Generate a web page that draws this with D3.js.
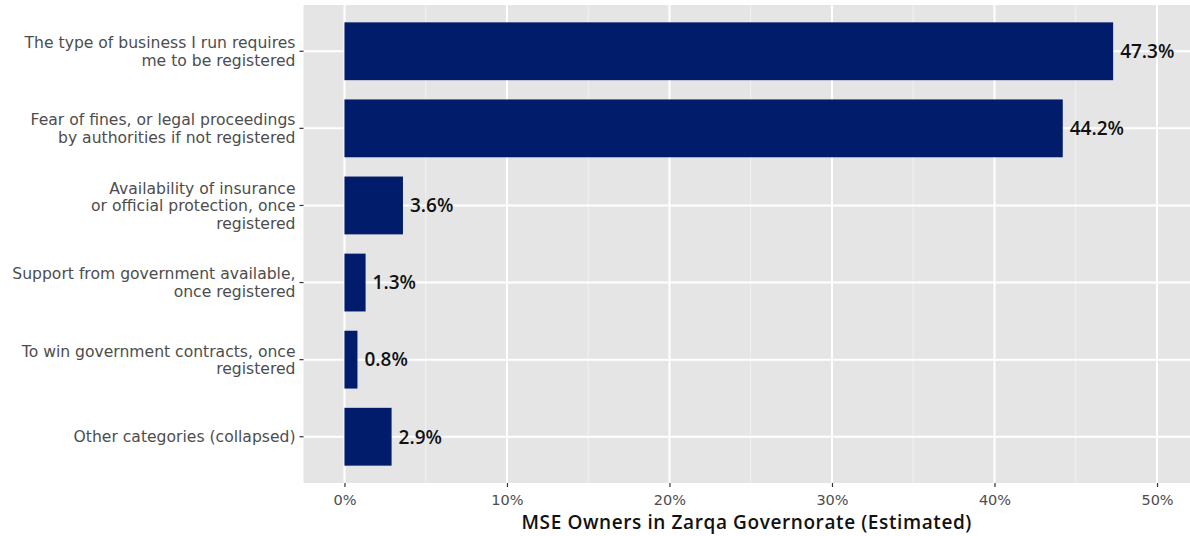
<!DOCTYPE html>
<html>
<head>
<meta charset="utf-8">
<script src="https://cdn.jsdelivr.net/npm/d3@7"></script>
<style>
  body { margin: 0; background: white; }
  svg { display: block; }
  .ylab { font-family: "DejaVu Sans", sans-serif; font-size: 15.6px; fill: #4d4d4d; }
  .xtick { font-family: "DejaVu Sans", sans-serif; font-size: 14.5px; fill: #4d4d4d; }
  .val { font-family: "Open Sans", sans-serif; font-size: 19px; font-weight: 600; fill: #111; }
  .xtitle { font-family: "Open Sans", sans-serif; font-size: 19px; font-weight: 600; fill: #111; letter-spacing: 0.6px; }
</style>
</head>
<body>
<div id="chart"></div>
<script>
// categories, top to bottom (each entry = lines of the wrapped label)
var categories = [
  ["The type of business I run requires", "me to be registered"],
  ["Fear of fines, or legal proceedings", "by authorities if not registered"],
  ["Availability of insurance", "or official protection, once", "registered"],
  ["Support from government available,", "once registered"],
  ["To win government contracts, once", "registered"],
  ["Other categories (collapsed)"]
]
var values = [47.3, 44.2, 3.6, 1.3, 0.8, 2.9]
var xTicks = [0, 10, 20, 30, 40, 50]
var xTitle = "MSE Owners in Zarqa Governorate (Estimated)"

const width = 1190
const height = 536
const panel = {left: 303.5, right: 1190, top: 5, bottom: 483}

var svg = d3.select('#chart').append('svg')
  .attr('width', width)
  .attr('height', height)

var x = d3.scaleLinear()
  .domain([-2.52, 52.03])
  .range([panel.left, panel.right])

// discrete positions like ggplot: 1..n with 0.6 expansion
var idx = categories.map((d, i) => i + 1)
var y = d3.scaleLinear()
  .domain([0.4, categories.length + 0.6])
  .range([panel.top, panel.bottom])
const barH = (y(2) - y(1)) * 0.75

// panel background
svg.append('rect')
  .attr('x', panel.left).attr('y', panel.top)
  .attr('width', panel.right - panel.left)
  .attr('height', panel.bottom - panel.top)
  .style('fill', '#e5e5e5')

// minor grid
var minor = [5, 15, 25, 35, 45]
svg.selectAll('.minor').data(minor).enter().append('line')
  .attr('x1', d => x(d)).attr('x2', d => x(d))
  .attr('y1', panel.top).attr('y2', panel.bottom)
  .style('stroke', '#f2f2f2').style('stroke-width', 1)

// major grid vertical
svg.selectAll('.majorx').data(xTicks).enter().append('line')
  .attr('x1', d => x(d)).attr('x2', d => x(d))
  .attr('y1', panel.top).attr('y2', panel.bottom)
  .style('stroke', 'white').style('stroke-width', 2)

// major grid horizontal
svg.selectAll('.majory').data(idx).enter().append('line')
  .attr('x1', panel.left).attr('x2', panel.right)
  .attr('y1', d => y(d)).attr('y2', d => y(d))
  .style('stroke', 'white').style('stroke-width', 2)

// bars
svg.selectAll('.bar').data(values).enter().append('rect')
  .attr('x', x(0))
  .attr('y', (d, i) => y(i + 1) - barH / 2)
  .attr('width', d => x(d) - x(0))
  .attr('height', barH)
  .style('fill', '#001c6b')

// value labels
svg.selectAll('.val').data(values).enter().append('text')
  .attr('class', 'val')
  .attr('x', d => x(d) + 7)
  .attr('y', (d, i) => y(i + 1))
  .attr('dy', '0.36em')
  .text(d => d.toFixed(1) + '%')

// x axis
var xAxis = d3.axisBottom(x)
  .tickValues(xTicks)
  .tickSize(4)
  .tickPadding(6)
  .tickFormat(d => d + '%')

var gx = svg.append('g')
  .attr('transform', 'translate(0,' + panel.bottom + ')')
  .call(xAxis)
gx.select('.domain').remove()
gx.selectAll('line').style('stroke', '#333').style('stroke-width', 1.2)
gx.selectAll('text').attr('class', 'xtick').attr('dy', '0.8em')

// y axis ticks and labels
svg.selectAll('.ytick').data(idx).enter().append('line')
  .attr('x1', panel.left - 4).attr('x2', panel.left)
  .attr('y1', d => y(d)).attr('y2', d => y(d))
  .style('stroke', '#333').style('stroke-width', 1.2)

var lineH = 17.5
svg.selectAll('.ylab').data(categories).enter().append('text')
  .attr('class', 'ylab')
  .attr('text-anchor', 'end')
  .attr('x', panel.left - 8)
  .attr('y', (d, i) => y(i + 1) - (d.length - 1) * lineH / 2)
  .each(function(d) {
    var t = d3.select(this)
    d.forEach((line, j) => {
      t.append('tspan')
        .attr('x', panel.left - 8)
        .attr('dy', j === 0 ? '0.36em' : lineH)
        .text(line)
    })
  })

// x title
svg.append('text')
  .attr('class', 'xtitle')
  .attr('text-anchor', 'middle')
  .attr('x', (panel.left + panel.right) / 2)
  .attr('y', 529)
  .text(xTitle)
</script>
</body>
</html>
